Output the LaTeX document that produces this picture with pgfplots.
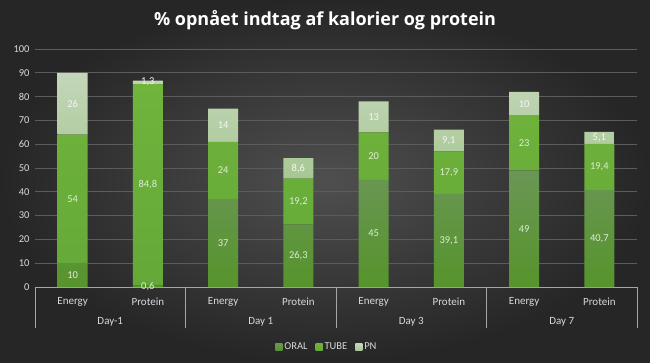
\documentclass[border=0pt]{standalone}
\usepackage{fontspec}
\setmainfont{Carlito}
\newfontfamily\titlefont{Open Sans}
\usepackage{pgfplots}
\pgfplotsset{compat=1.18}
\usepackage{pgfplotstable}
\definecolor{bgin}{HTML}{4F4F4F}
\definecolor{bgout}{HTML}{262626}
\definecolor{gridc}{HTML}{5C5C5C}
\definecolor{axc}{HTML}{A6A6A6}
\definecolor{txt}{HTML}{D9D9D9}
\definecolor{oralT}{RGB}{106,150,84}
\definecolor{oralB}{RGB}{86,148,44}
\definecolor{tubeT}{RGB}{112,180,60}
\definecolor{tubeB}{RGB}{100,168,56}
\definecolor{pnT}{RGB}{196,214,186}
\definecolor{pnB}{RGB}{166,200,146}
\definecolor{lab}{RGB}{222,236,212}

\pgfplotstableread{
x oral tube pn
0 10 54 26
1 0.6 84.8 1.3
2 37 24 14
3 26.3 19.2 8.6
4 45 20 13
5 39.1 17.9 9.1
6 49 23 10
7 40.7 19.4 5.1
}\data

\begin{document}
\begin{tikzpicture}
\useasboundingbox (0,0) rectangle (650pt,-362pt);
\shade[inner color=bgin, outer color=bgout] (0,0) rectangle (650pt,-362pt);
\node[text=white, font=\titlefont\bfseries\fontsize{18}{21}\selectfont] at (325pt,-20pt) {\% opnået indtag af kalorier og protein};

\begin{axis}[
  at={(35pt,-287pt)}, anchor=south west,
  scale only axis, width=602pt, height=238pt,
  ybar stacked, bar width=30pt,
  xmin=-0.5, xmax=7.5, ymin=0, ymax=100,
  ytick={0,10,...,100},
  xtick={0,...,7},
  xticklabels={Energy,Protein,Energy,Protein,Energy,Protein,Energy,Protein},
  axis lines*=left,
  y axis line style={draw=none},
  x axis line style={draw=axc, line width=0.8pt},
  major tick length=0pt,
  ymajorgrids, grid style={draw=gridc, line width=0.8pt},
  yticklabel style={text=txt, font=\fontsize{10.5}{12}\selectfont, xshift=-2pt},
  xticklabel style={text=txt, font=\fontsize{11}{13}\selectfont, yshift=-7pt},
  /pgf/number format/assume math mode=true,
  clip=false,
  legend columns=3,
  legend style={at={(0.485,-0.252)}, anchor=center, draw=none, fill=none,
    text=txt, font=\fontsize{10.5}{12}\selectfont,
    /tikz/every even column/.append style={column sep=6pt}},
  legend image code/.code={\path[#1] (0pt,-3.5pt) rectangle (7pt,3.5pt);},
]
\addplot[draw=none, top color=oralT, bottom color=oralB] table[x=x,y=oral]\data;
\addlegendentry{ORAL}
\addplot[draw=none, top color=tubeT, bottom color=tubeB] table[x=x,y=tube]\data;
\addlegendentry{TUBE}
\addplot[draw=none, top color=pnT, bottom color=pnB] table[x=x,y=pn]\data;
\addlegendentry{PN}
\pgfplotsinvokeforeach{-0.5,1.5,3.5,5.5,7.5}{
  \draw[axc, line width=0.8pt] (axis cs:#1,0) -- ++(0pt,-41pt);
}
\node[text=txt, font=\fontsize{11}{13}\selectfont] at (axis cs:0.5,0) [yshift=-35pt] {Day-1};
\node[text=txt, font=\fontsize{11}{13}\selectfont] at (axis cs:2.5,0) [yshift=-35pt] {Day 1};
\node[text=txt, font=\fontsize{11}{13}\selectfont] at (axis cs:4.5,0) [yshift=-35pt] {Day 3};
\node[text=txt, font=\fontsize{11}{13}\selectfont] at (axis cs:6.5,0) [yshift=-35pt] {Day 7};
\end{axis}

\begin{axis}[
  at={(35pt,-287pt)}, anchor=south west,
  scale only axis, width=602pt, height=238pt,
  xmin=-0.5, xmax=7.5, ymin=0, ymax=100,
  hide axis, clip=false,
  point meta=explicit,
  nodes near coords,
  every node near coord/.append style={anchor=center, font=\fontsize{10.5}{12}\selectfont},
  /pgf/number format/.cd, use comma, assume math mode=true,
]
\addplot[draw=none, mark=none, nodes near coords style={text=lab}] table[x=x, y expr=\thisrow{oral}/2, meta=oral]\data;
\addplot[draw=none, mark=none, nodes near coords style={text=lab}] table[x=x, y expr=\thisrow{oral}+\thisrow{tube}/2, meta=tube]\data;
\addplot[draw=none, mark=none, nodes near coords style={text=white!92!gray}] table[x=x, y expr=\thisrow{oral}+\thisrow{tube}+\thisrow{pn}/2, meta=pn]\data;
\end{axis}
\end{tikzpicture}
\end{document}
